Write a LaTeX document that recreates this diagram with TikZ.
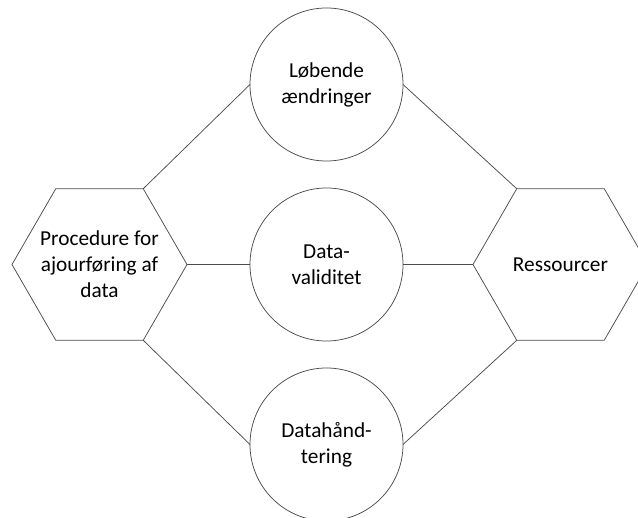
\documentclass[tikz,border=0pt]{standalone}
\usepackage{fontspec}
\setmainfont{Carlito}
\usetikzlibrary{shapes.geometric}
\begin{document}
\begin{tikzpicture}[x=1bp,y=-1bp,
  every node/.style={font=\fontsize{21.3bp}{26bp}\selectfont, align=center, inner sep=0pt, outer sep=0pt},
  hexbox/.style={draw=black!70, line width=0.75bp, regular polygon, regular polygon sides=6, minimum size=175bp},
  circbox/.style={draw=black!70, line width=0.75bp, circle, minimum size=153bp},
  link/.style={draw=black!70, line width=0.75bp}]
\useasboundingbox (0,0) rectangle (638,518);
\clip (0,0) rectangle (638,518);
\node[hexbox, label={[name=Ltext, align=center]center:Procedure for\\ajourføring af\\data}] (L) at (99.5,264.5) {};
\node[hexbox, label={[name=Rtext]center:Ressourcer}] (R) at (560.5,264.5) {};
\node[circbox] (T) at (326.5,84.5) {Løbende\\ændringer};
\node[circbox] (M) at (326.5,264.5) {Data-\\validitet};
\node[circbox] (B) at (326.5,444.5) {Datahånd-\\tering};
\draw[link] (L.60) -- (T.west);
\draw[link] (T.east) -- (R.120);
\draw[link] (L.0) -- (M.west);
\draw[link] (M.east) -- (R.180);
\draw[link] (L.-60) -- (B.west);
\draw[link] (B.east) -- (R.-120);
\end{tikzpicture}
\end{document}
